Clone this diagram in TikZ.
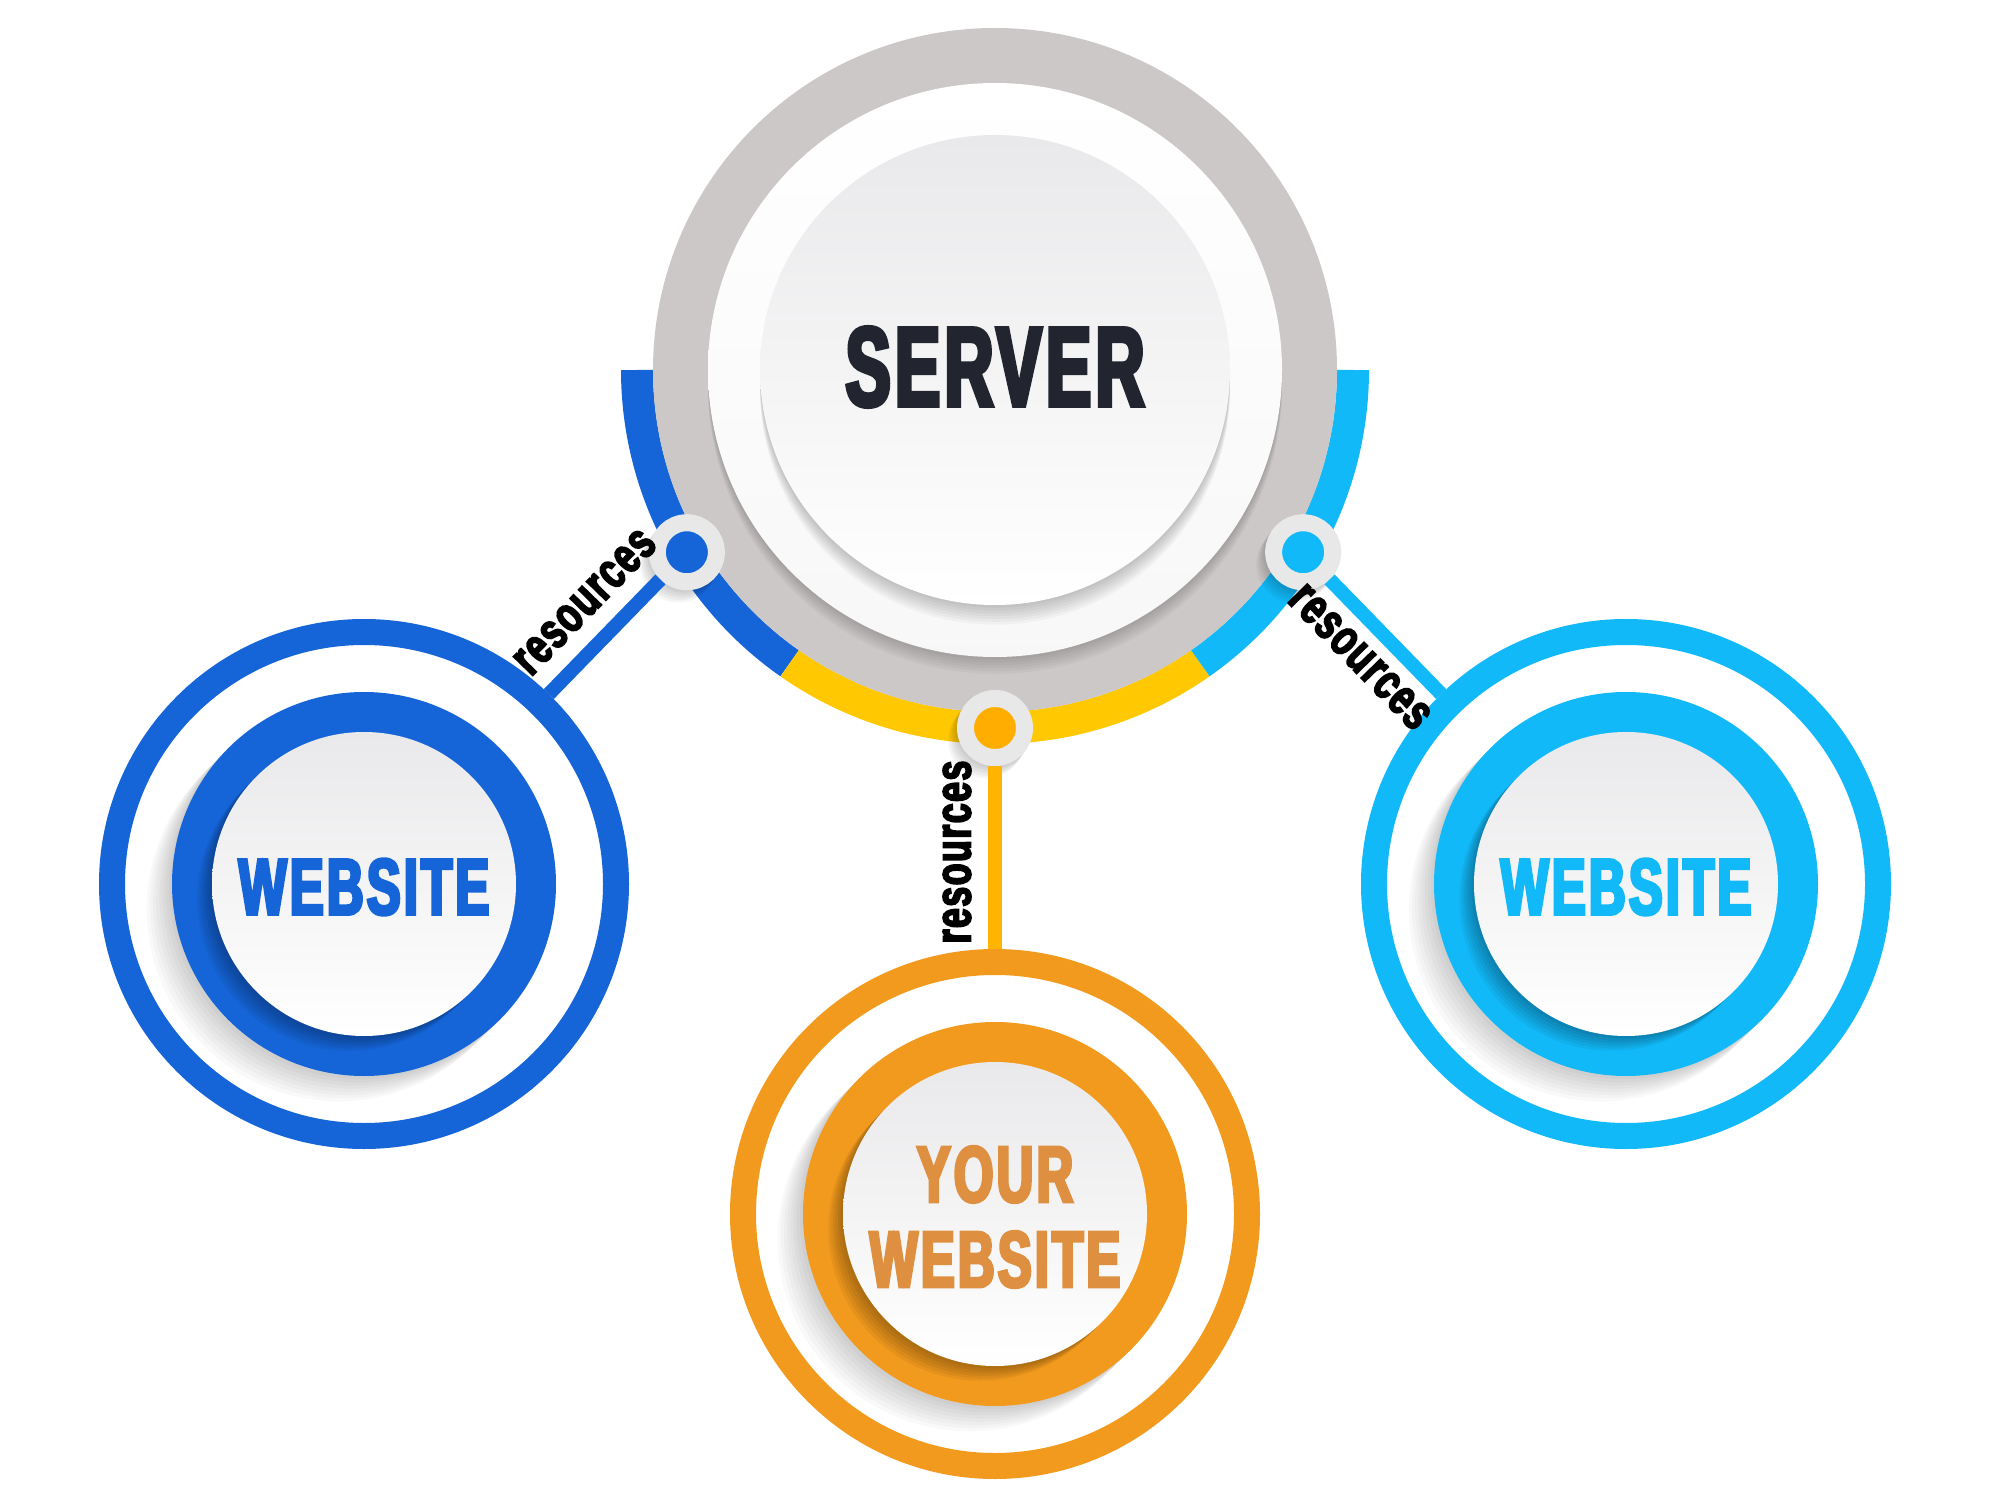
\documentclass[tikz,border=0pt]{standalone}
\usepackage{fontspec}
\newfontfamily\headfont{Liberation Sans}[UprightFont=* Bold, FakeStretch=0.64, FakeBold=4, LetterSpace=4]
\newfontfamily\srvfont{Liberation Sans}[UprightFont=* Bold, FakeStretch=0.6, FakeBold=4, LetterSpace=4]
\newfontfamily\tagfont{Liberation Sans}[UprightFont=* Bold, FakeStretch=0.7, FakeBold=3.5, LetterSpace=3]
\definecolor{blueD}{HTML}{1565D8}
\definecolor{blueL}{HTML}{12B9F9}
\definecolor{bandYellow}{HTML}{FFC800}
\definecolor{linkYellow}{HTML}{FFB400}
\definecolor{hubYellow}{HTML}{FFAE00}
\definecolor{orangeW}{HTML}{F29A1E}
\definecolor{orangeT}{HTML}{DE8F3F}
\definecolor{srvgray}{HTML}{CCC8C8}
\definecolor{hubgray}{HTML}{E9E8E8}
\definecolor{discTop}{HTML}{E9E9EB}
\definecolor{srvtext}{HTML}{22252F}
\begin{document}
\begin{tikzpicture}[
  ring/.style={circle, draw=#1, line width=2.6mm, minimum size=50.4mm, inner sep=0pt},
  hub/.style={circle, fill=#1, draw=hubgray, line width=1.7mm, minimum size=5.9mm, inner sep=0pt},
  link/.style={draw=#1, line width=4pt},
  band/.style={draw=#1, line width=3.2mm},
  tag/.style={font=\tagfont\fontsize{14.5}{14.5}\selectfont, text=black, sloped, above=1.5pt},
  title/.style={font=\headfont\fontsize{22.6}{24.2}\selectfont, align=center, text=#1}
]
\useasboundingbox (0,0) rectangle (20,15);
\fill[white] (0,0) rectangle (20,15);
\coordinate (srv) at (9.95,11.30);

% coloured band under the server
\draw[band=blueD] (srv) ++(180:3.58) arc (180:235:3.58);
\draw[band=bandYellow] (srv) ++(235:3.58) arc (235:305:3.58);
\draw[band=blueL] (srv) ++(305:3.58) arc (305:360:3.58);

% server discs
\fill[srvgray] (srv) circle (3.42);
\foreach \k in {1,...,6}
  \fill[black, opacity=.03] ([yshift=-\k*0.8pt]srv) circle (2.87);
\shade[top color=white, bottom color=gray!6] (srv) circle (2.87);
\foreach \k in {1,...,7}
  \fill[black, opacity=.03] ([yshift=-\k*0.8pt]srv) circle (2.35);
\shade[top color=discTop, bottom color=white] (srv) circle (2.35);
\node[font=\srvfont\fontsize{32}{32}\selectfont, text=srvtext] (server) at ([yshift=0.03cm]srv) {SERVER};

% junction points on the band
\foreach \nm/\ang/\col in {hubL/210.6/blueD, hubY/270/hubYellow, hubR/329.4/blueL}{
  \foreach \k in {1,...,5}
    \fill[black, opacity=.04] ([shift={(\ang:3.58)}, xshift=-\k*0.5pt, yshift=-\k*0.7pt]srv) circle (0.38);
  \node[hub=\col] (\nm) at ([shift={(\ang:3.58)}]srv) {};
}

% websites
\foreach \nm/\x/\y/\col/\ink/\txt in {
    webL/3.64/6.16/blueD/blueD/WEBSITE,
    webY/9.95/2.86/orangeW/orangeT/{YOUR\\WEBSITE},
    webR/16.26/6.16/blueL/blueL/WEBSITE}{
  \node[ring=\col] (\nm) at (\x,\y) {};
  \foreach \k in {1,...,8}
    \fill[black, opacity=.025] ([xshift=-\k*0.9pt, yshift=-\k*0.9pt]\nm.center) circle (1.92);
  \fill[\col] (\nm.center) circle (1.92);
  \foreach \k in {1,...,6}
    \fill[black, opacity=.05] ([xshift=-\k*0.7pt, yshift=-\k*0.7pt]\nm.center) circle (1.52);
  \shade[top color=discTop, bottom color=white] (\nm.center) circle (1.52);
  \node[title=\ink] (\nm-t) at ([yshift=-0.03cm]\nm.center) {\txt};
}

% connectors
\draw[link=blueD] (hubL) -- node[tag, pos=.43] {resources} (webL);
\draw[link=blueL] (hubR) -- node[tag, pos=.48, below=1.5pt] {resources} (webR);
\draw[link=linkYellow] (webY) -- node[tag, pos=.53] {resources} (hubY);
\end{tikzpicture}
\end{document}
